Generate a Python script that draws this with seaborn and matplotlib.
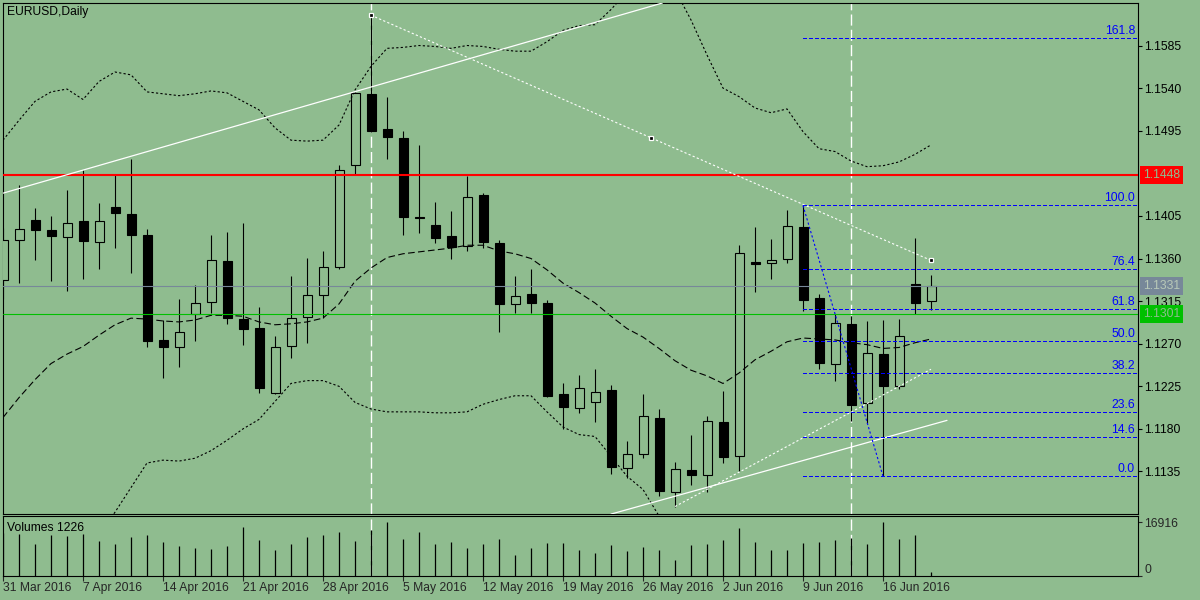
import numpy as np
import pandas as pd
import matplotlib
matplotlib.use("Agg")
import matplotlib.pyplot as plt
import matplotlib.transforms as mtransforms
import seaborn as sns

# EURUSD daily bars, 31 Mar 2016 .. 21 Jun 2016
dates = pd.bdate_range("2016-03-31", "2016-06-21")

opens = [1.1337, 1.1380, 1.1401, 1.1390, 1.1383, 1.1400, 1.1377, 1.1414, 1.1407, 1.1385,
         1.1274, 1.1267, 1.1301, 1.1314, 1.1357, 1.1296, 1.1287, 1.1218, 1.1268, 1.1298,
         1.1321, 1.1351, 1.1459, 1.1534, 1.1497, 1.1487, 1.1404, 1.1395, 1.1384, 1.1373,
         1.1427, 1.1376, 1.1312, 1.1322, 1.1313, 1.1217, 1.1202, 1.1208, 1.1221, 1.1139,
         1.1154, 1.1192, 1.1113, 1.1137, 1.1131, 1.1187, 1.1151, 1.1356, 1.1355, 1.1359,
         1.1393, 1.1318, 1.1249, 1.1291, 1.1207, 1.1259, 1.1225, 1.1333, 1.1315]
highs = [1.1392, 1.1438, 1.1413, 1.1405, 1.1432, 1.1454, 1.1419, 1.1448, 1.1465, 1.1391,
         1.1295, 1.1317, 1.1332, 1.1385, 1.1388, 1.1397, 1.1309, 1.1278, 1.1341, 1.1361,
         1.1368, 1.1459, 1.1536, 1.1617, 1.1531, 1.1495, 1.1480, 1.1420, 1.1410, 1.1447,
         1.1429, 1.1380, 1.1342, 1.1349, 1.1316, 1.1229, 1.1237, 1.1243, 1.1226, 1.1167,
         1.1217, 1.1201, 1.1145, 1.1174, 1.1194, 1.1220, 1.1374, 1.1393, 1.1381, 1.1411,
         1.1416, 1.1322, 1.1301, 1.1299, 1.1294, 1.1295, 1.1296, 1.1382, 1.1343]
lows = [1.1317, 1.1334, 1.1358, 1.1336, 1.1326, 1.1338, 1.1349, 1.1371, 1.1345, 1.1267,
        1.1234, 1.1245, 1.1273, 1.1302, 1.1291, 1.1269, 1.1218, 1.1217, 1.1255, 1.1271,
        1.1297, 1.1349, 1.1448, 1.1494, 1.1465, 1.1385, 1.1387, 1.1376, 1.1359, 1.1368,
        1.1371, 1.1282, 1.1302, 1.1302, 1.1214, 1.1180, 1.1197, 1.1187, 1.1132, 1.1128,
        1.1149, 1.1109, 1.1098, 1.1121, 1.1113, 1.1144, 1.1136, 1.1325, 1.1338, 1.1355,
        1.1305, 1.1243, 1.1231, 1.1188, 1.1186, 1.1130, 1.1222, 1.1301, 1.1306]
closes = [1.1380, 1.1391, 1.1390, 1.1384, 1.1398, 1.1378, 1.1400, 1.1408, 1.1385, 1.1273,
          1.1266, 1.1282, 1.1313, 1.1358, 1.1297, 1.1286, 1.1223, 1.1267, 1.1297, 1.1321,
          1.1351, 1.1453, 1.1535, 1.1495, 1.1488, 1.1404, 1.1403, 1.1382, 1.1372, 1.1425,
          1.1377, 1.1312, 1.1320, 1.1313, 1.1215, 1.1203, 1.1223, 1.1219, 1.1140, 1.1154,
          1.1194, 1.1114, 1.1138, 1.1131, 1.1188, 1.1150, 1.1366, 1.1354, 1.1358, 1.1394,
          1.1316, 1.1250, 1.1292, 1.1205, 1.1260, 1.1225, 1.1278, 1.1313, 1.1331]
volumes = [13500, 13063, 10024, 12844, 12530, 13063, 11058, 10024, 12217, 12844,
           10651, 9398, 8771, 8458, 9398, 15350, 11277, 8145, 10024, 12217,
           12844, 13783, 10964, 14410, 16916, 11591, 13783, 10024, 10651, 8771,
           10024, 11591, 6578, 8771, 10338, 10338, 8145, 7205, 9711, 7832,
           9085, 8145, 5012, 9711, 10024, 11277, 15036, 10651, 8145, 8145,
           10338, 10651, 11277, 11904, 10024, 16916, 11591, 12844, 1226]

# indicators (bollinger bands dotted, moving average dashed)
bb_upper = [1.1485, 1.1506, 1.1526, 1.1536, 1.1539, 1.1528, 1.1547, 1.1557, 1.1554, 1.1536,
            1.1534, 1.1532, 1.1534, 1.1537, 1.1535, 1.1526, 1.1517, 1.1498, 1.1485, 1.1484,
            1.1485, 1.1501, 1.1538, 1.1563, 1.1582, 1.1583, 1.1585, 1.1584, 1.1582, 1.1585,
            1.1584, 1.1581, 1.1579, 1.1579, 1.1589, 1.1601, 1.1606, 1.1607, 1.1623, 1.1642,
            1.1654, 1.1656, 1.1644, 1.1612, 1.1575, 1.1540, 1.1531, 1.1519, 1.1514, 1.1518,
            1.1494, 1.1476, 1.1473, 1.1463, 1.1457, 1.1458, 1.1462, 1.1470, 1.1480]
bb_lower = [1.0999, 1.1010, 1.1023, 1.1035, 1.1046, 1.1054, 1.1069, 1.1092, 1.1118, 1.1144,
            1.1147, 1.1146, 1.1149, 1.1157, 1.1168, 1.1180, 1.1190, 1.1209, 1.1228, 1.1231,
            1.1231, 1.1225, 1.1208, 1.1201, 1.1198, 1.1198, 1.1198, 1.1197, 1.1197, 1.1198,
            1.1206, 1.1211, 1.1215, 1.1215, 1.1198, 1.1182, 1.1174, 1.1172, 1.1151, 1.1130,
            1.1116, 1.1088, 1.1073, 1.1063, 1.1054, 1.1050, 1.1052, 1.1056, 1.1057, 1.1057,
            1.1063, 1.1068, 1.1071, 1.1073, 1.1075, 1.1075, 1.1077, 1.1080, 1.1082]
ma_line = [1.1192, 1.1213, 1.1232, 1.1249, 1.1259, 1.1267, 1.1279, 1.1290, 1.1297, 1.1296,
           1.1294, 1.1293, 1.1295, 1.1300, 1.1300, 1.1299, 1.1293, 1.1290, 1.1291, 1.1293,
           1.1297, 1.1312, 1.1336, 1.1350, 1.1361, 1.1365, 1.1367, 1.1369, 1.1371, 1.1374,
           1.1374, 1.1368, 1.1365, 1.1360, 1.1348, 1.1334, 1.1324, 1.1313, 1.1299, 1.1286,
           1.1277, 1.1265, 1.1252, 1.1242, 1.1236, 1.1228, 1.1239, 1.1253, 1.1262, 1.1272,
           1.1276, 1.1275, 1.1274, 1.1271, 1.1269, 1.1265, 1.1266, 1.1271, 1.1275]

date_labels = ["31 Mar 2016", "7 Apr 2016", "14 Apr 2016", "21 Apr 2016", "28 Apr 2016",
               "5 May 2016", "12 May 2016", "19 May 2016", "26 May 2016", "2 Jun 2016",
               "9 Jun 2016", "16 Jun 2016"]
price_ticks = [1.1585, 1.1540, 1.1495, 1.1405, 1.1360, 1.1315, 1.1270, 1.1225, 1.1180, 1.1135]
volume_ticks = [16916, 0]

resistance = 1.1448
support = 1.1301
bid = 1.1331

# fibonacci retracement from the 9 Jun high to the 16 Jun low
fib_start, fib_end = 50, 55
fib_high, fib_low = 1.1416, 1.1130
fib_levels = [0.0, 14.6, 23.6, 38.2, 50.0, 61.8, 76.4, 100.0, 161.8]

# hand drawn objects: (bar, price) anchors
trend_up = [(0, 1.1429), (40, 1.1624)]
trend_low = [(38, 1.1090), (59, 1.1189)]
dotted_down = [(23, 1.1617), (58, 1.1358)]
dotted_up = [(42, 1.1098), (58, 1.1243)]
vertical_bars = [23, 53]

BG = "#8fbc8f"
FONT = "Liberation Sans"
FS = 8.7
PXW = 0.72  # one pixel line width in points

sns.set_theme(style="white", rc={"axes.facecolor": BG, "figure.facecolor": BG,
                                 "axes.edgecolor": "black", "axes.linewidth": 0.8})
plt.rcParams["font.family"] = [FONT, "DejaVu Sans"]

W, H = 1200, 600
fig = plt.figure(figsize=(12, 6), dpi=100)
ax = fig.add_axes([3 / W, 1 - 514 / H, 1135 / W, 511 / H])
axv = fig.add_axes([3 / W, 1 - 576 / H, 1135 / W, 60 / H])

x = np.arange(len(dates))
o, h, l, c = (np.array(v) for v in (opens, highs, lows, closes))
up = c >= o
px = 1 / 16  # one screen pixel in bar units

# vertical markers behind everything
for b in vertical_bars:
    for a in (ax, axv):
        a.axvline(b, color="white", lw=1.0, linestyle=(0, (8, 3)), zorder=1)

# candles
ax.vlines(x, l, h, color="black", lw=0.8, zorder=2)
ax.bar(x[up], c[up] - o[up], bottom=o[up], width=9 * px, facecolor=BG,
       edgecolor="black", lw=0.8, zorder=3)
ax.bar(x[~up], o[~up] - c[~up], bottom=c[~up], width=9 * px, facecolor="black",
       edgecolor="black", lw=0.8, zorder=3)

# indicators
sns.lineplot(x=x, y=bb_upper, ax=ax, color="black", lw=0.8, linestyle=(0, (2, 2)), zorder=4)
sns.lineplot(x=x, y=bb_lower, ax=ax, color="black", lw=0.8, linestyle=(0, (2, 2)), zorder=4)
sns.lineplot(x=x, y=ma_line, ax=ax, color="black", lw=0.8, linestyle=(0, (6, 3)), zorder=4)

# horizontal levels
ax.axhline(resistance, color="#ff0000", lw=1.5, zorder=5)
ax.axhline(support, color="#00c000", lw=0.8, zorder=5)
ax.axhline(bid, color="#778899", lw=0.8, zorder=5)

# trend lines
ax.axline(trend_up[0], trend_up[1], color="white", lw=0.9, zorder=5)
ax.plot(*zip(*trend_low), color="white", lw=0.9, zorder=5)
ax.plot(*zip(*dotted_down), color="white", lw=0.8, linestyle=(0, (2, 2)), zorder=5)
ax.plot(*zip(*dotted_up), color="white", lw=0.8, linestyle=(0, (2, 2)), zorder=5)
mid = ((dotted_down[0][0] + dotted_down[1][0]) / 2, (dotted_down[0][1] + dotted_down[1][1]) / 2)
ax.plot([dotted_down[0][0], mid[0], dotted_down[1][0]],
        [dotted_down[0][1], mid[1], dotted_down[1][1]], "s", ms=3.5,
        mfc="black", mec="white", mew=0.9, zorder=6)

# fibonacci
rng = fib_high - fib_low
ax.plot([fib_start, fib_end], [fib_high, fib_low], color="#0000ff", lw=0.8,
        linestyle=(0, (2, 2)), zorder=5)
tr_right = mtransforms.blended_transform_factory(ax.transAxes, ax.transData)
for lvl in fib_levels:
    price = fib_low + rng * lvl / 100
    ax.hlines(price, fib_start, 100, color="#0000ff", lw=PXW, linestyle=(0, (4, 2.5)),
              zorder=5, antialiased=False)
    ax.text(1 - 3 / 1135, price + 0.00012, f"{lvl:.1f}", transform=tr_right, ha="right",
            va="bottom", color="#0000ff", fontsize=FS, zorder=6)

ax.set_xlim(0, 1135 / 16)
ax.set_ylim(1.10901, 1.16299)
ax.set_xticks([])
ax.yaxis.tick_right()
ax.set_yticks(price_ticks)
ax.set_yticklabels([f"{t:.4f}" for t in price_ticks])
ax.tick_params(axis="y", which="both", right=True, length=3, width=0.8, pad=1.5,
               labelsize=FS, colors="black")
ax.set_xlabel("")
ax.set_ylabel("")

# price tags on the axis
for price, col, txtcol in [(resistance, "#ff0000", BG), (bid, "#778899", "#b8c8b8"),
                           (support, "#00c000", BG)]:
    ax.text(1 + 5 / 1135, price, f"{price:.4f}", transform=tr_right, ha="left",
            va="center", color=txtcol, fontsize=FS, zorder=7, clip_on=False,
            bbox=dict(boxstyle="square,pad=0.25", fc=col, ec="none"))

ax.text(4 / 1135, 1 - 8.7 / 511, "EURUSD,Daily", transform=ax.transAxes, ha="left",
        va="center", fontsize=FS, color="black")

# volumes
axv.vlines(x, 0, volumes, color="black", lw=0.9, zorder=3)
axv.set_xlim(0, 1135 / 16)
axv.set_ylim(0, 18796)
axv.yaxis.tick_right()
axv.set_yticks(volume_ticks)
axv.set_yticklabels([str(v) for v in volume_ticks])
axv.tick_params(axis="y", right=True, length=3, width=0.8, pad=1.5, labelsize=FS)
for lab in axv.get_yticklabels():
    if lab.get_text() == "0":
        lab.set_va("bottom")
axv.set_xticks(x[::5])
axv.set_xticklabels(date_labels, ha="left")
axv.tick_params(axis="x", bottom=True, length=3.6, width=0.8, pad=0.5, labelsize=FS)
axv.text(4 / 1135, 0.8, "Volumes 1226", transform=axv.transAxes, ha="left", va="center",
         fontsize=FS, color="black")
axv.set_xlabel("")
axv.set_ylabel("")

for a in (ax, axv):
    for s in a.spines.values():
        s.set_color("black")
        s.set_linewidth(0.8)

fig.savefig("out.png", dpi=100, facecolor=BG)
